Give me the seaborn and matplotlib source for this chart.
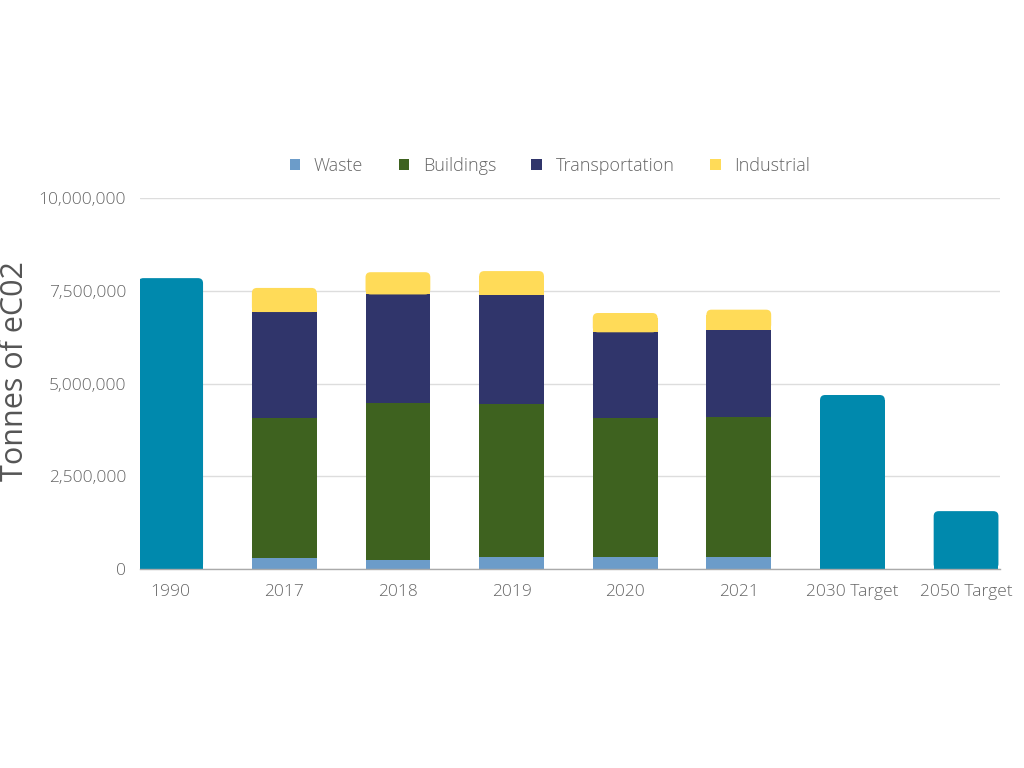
import matplotlib
matplotlib.use("Agg")
import matplotlib.pyplot as plt
import seaborn as sns
import pandas as pd
from matplotlib.patches import Patch, FancyBboxPatch
from matplotlib.ticker import FuncFormatter

categories = ["1990", "2017", "2018", "2019", "2020", "2021", "2030 Target", "2050 Target"]
stack_years = ["2017", "2018", "2019", "2020", "2021"]
waste = [286000, 240000, 330000, 330000, 320000]
buildings = [3790000, 4240000, 4110000, 3750000, 3790000]
transportation = [2850000, 2920000, 2950000, 2300000, 2340000]
industrial = [650000, 600000, 640000, 520000, 540000]
total_cats = ["1990", "2030 Target", "2050 Target"]
total_vals = [7840000, 4690000, 1560000]

colors = {"Waste": "#6C9CC9", "Buildings": "#3E621F",
          "Transportation": "#30356B", "Industrial": "#FFDB58"}
total_color = "#0089AD"

sns.set_theme(style="white")
plt.rcParams["font.family"] = ["Open Sans", "DejaVu Sans"]
plt.rcParams["font.weight"] = "light"

fig = plt.figure(figsize=(10.24, 7.68), dpi=100)
ax = fig.add_axes([0.1367, 0.2591, 0.84, 0.4831])

width = 0.57
order = categories
df_tot = pd.DataFrame({"cat": total_cats, "val": total_vals})
sns.barplot(data=df_tot, x="cat", y="val", order=order, color=total_color,
            width=width, ax=ax, saturation=1, linewidth=0)
top_patches = list(ax.patches)

bottom = [0] * len(stack_years)
for name, vals in [("Waste", waste), ("Buildings", buildings),
                   ("Transportation", transportation), ("Industrial", industrial)]:
    n_before = len(ax.patches)
    d = pd.DataFrame({"cat": stack_years, "val": vals})
    sns.barplot(data=d, x="cat", y="val", order=order, color=colors[name],
                width=width, ax=ax, saturation=1, linewidth=0, bottom=bottom)
    if name == "Industrial":
        top_patches += list(ax.patches)[n_before:]
    bottom = [b + v for b, v in zip(bottom, vals)]

ax.set_xlim(-0.27, 7.3)
ax.set_ylim(0, 10000000)

# rounded top corners
rx = 0.045
ry = 135000
for p in top_patches:
    x0, y0 = p.get_x(), p.get_y()
    w, h = p.get_width(), p.get_height()
    if h <= 0:
        continue
    p.set_height(h - ry)
    fb = FancyBboxPatch((x0, y0), w, h,
                        boxstyle=f"round,pad=0,rounding_size={rx}",
                        mutation_aspect=ry / rx, facecolor=p.get_facecolor(),
                        edgecolor="none", linewidth=0, zorder=p.get_zorder())
    ax.add_patch(fb)

ax.set_yticks([0, 2500000, 5000000, 7500000, 10000000])
ax.yaxis.set_major_formatter(FuncFormatter(lambda v, p: f"{int(v):,}"))
ax.grid(axis="y", color="#DDDDDD", linewidth=1)
ax.set_axisbelow(True)
for s in ["top", "right", "left"]:
    ax.spines[s].set_visible(False)
ax.spines["bottom"].set_color("#AAAAAA")
ax.spines["bottom"].set_linewidth(1)
ax.tick_params(axis="x", length=0, labelsize=12.5, labelcolor="#666666", pad=11)
ax.tick_params(axis="y", length=0, labelsize=12.5, labelcolor="#666666", pad=10)
ax.set_xlabel("")
ax.set_ylabel("Tonnes of eC02", fontsize=22, color="#555555")
ax.yaxis.set_label_coords(-0.128, 0.534)

handles = [Patch(facecolor=colors[n], edgecolor="none", label=n) for n in colors]
fig.legend(handles=handles, loc="center", bbox_to_anchor=(0.537, 0.784), ncol=4,
           frameon=False, fontsize=13, labelcolor="#666666", handlelength=0.6,
           handleheight=0.6, handletextpad=0.75, columnspacing=1.95)

fig.savefig("out.png", dpi=100)
